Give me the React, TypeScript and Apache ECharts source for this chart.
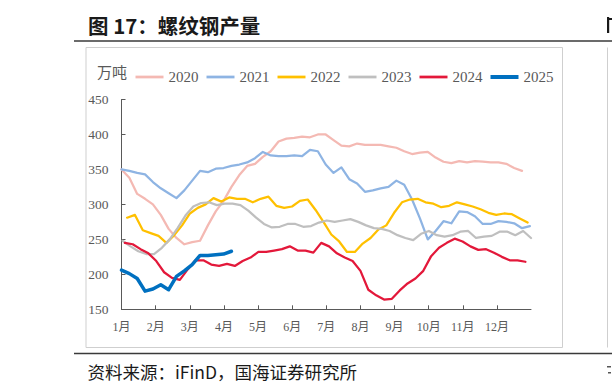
import React, { useEffect, useRef } from "react";
import * as echarts from "echarts";

const years = ["2020", "2021", "2022", "2023", "2024", "2025"];
const colors = ["#F4B9B3", "#8EB4E3", "#FFC000", "#BFBFBF", "#E3183A", "#0070C0"];
const lineWidths = [2.25, 2.25, 2.25, 2.25, 2.25, 3.5];
// day of year of each series' first weekly observation
const firstDay = [0, 0, 5, 1, 3, 0];
const monthLabels = ["1月", "2月", "3月", "4月", "5月", "6月", "7月", "8月", "9月", "10月", "11月", "12月"];
const yMin = 150;
const yMax = 450;
const yStep = 50;

const s2020 = [350, 338, 315, 308, 300, 285, 265, 252, 243, 246, 248, 270, 290, 305, 325, 342, 355, 358, 368, 376, 390, 394, 395, 397, 396, 400, 400, 392, 384, 383, 387, 385, 385, 385, 383, 381, 376, 372, 374, 375, 367, 361, 359, 362, 360, 362, 361, 360, 360, 358, 352, 348];
const s2021 = [350, 348, 345, 343, 332, 323, 316, 309, 320, 334, 348, 346, 351, 352, 355, 357, 360, 366, 375, 370, 369, 369, 370, 369, 378, 376, 357, 345, 353, 336, 330, 318, 320, 323, 325, 334, 328, 307, 280, 250, 262, 276, 273, 290, 289, 283, 272, 272, 276, 275, 273, 266, 269];
const s2022 = [281, 285, 263, 259, 255, 245, 256, 270, 287, 295, 300, 309, 304, 310, 308, 308, 303, 308, 311, 298, 295, 297, 305, 307, 292, 275, 257, 247, 232, 232, 244, 252, 264, 270, 288, 303, 307, 308, 303, 301, 296, 298, 303, 300, 297, 293, 288, 285, 287, 286, 280, 274];
const s2023 = [248, 240, 233, 229, 229, 238, 250, 266, 284, 297, 302, 303, 299, 301, 301, 299, 291, 281, 272, 267, 268, 272, 272, 268, 269, 274, 277, 275, 277, 279, 275, 270, 266, 265, 262, 256, 252, 249, 258, 262, 256, 254, 256, 261, 262, 252, 254, 255, 261, 261, 256, 262, 252];
const s2024 = [245, 243, 236, 230, 219, 203, 195, 192, 207, 220, 220, 214, 212, 215, 212, 219, 224, 232, 232, 234, 236, 240, 234, 234, 231, 245, 240, 230, 224, 219, 205, 178, 170, 164, 165, 177, 187, 194, 205, 226, 238, 245, 251, 247, 240, 235, 236, 231, 225, 220, 220, 218];
const s2025 = [206, 201, 194, 176, 179, 185, 178, 197, 205, 214, 227, 227, 228, 229, 233];

const seriesValues = [s2020, s2021, s2022, s2023, s2024, s2025];

const DAYS_PER_MONTH = 365 / 12;
const serif = "'Liberation Serif', 'Times New Roman', serif";
const axisFont = "'Liberation Serif', 'Noto Sans CJK SC', serif";
const cjk = "'Noto Sans CJK SC', sans-serif";

export default function App() {
  const ref = useRef<HTMLDivElement>(null);

  useEffect(() => {
    if (!ref.current) return;
    const chart = echarts.init(ref.current, undefined, { renderer: "svg" });

    const series = years.map((y, k) => ({
      name: y,
      type: "line",
      symbol: "none",
      smooth: false,
      z: 2 + k,
      lineStyle: { color: colors[k], width: lineWidths[k], cap: "round", join: "round" },
      itemStyle: { color: colors[k] },
      data: seriesValues[k].map((v, i) => [(firstDay[k] + 7 * i) / DAYS_PER_MONTH, v]),
    }));

    const legendData = years.map((y, k) => ({
      name: y,
      icon: `path://M0 0H28V${lineWidths[k] + 0.5}H0Z`,
      itemStyle: { color: colors[k], borderWidth: 0 },
    }));

    const option: any = {
      animation: false,
      backgroundColor: "#ffffff",
      grid: { left: 121.5, right: 81, top: 99.5, bottom: 82.7, containLabel: false },
      legend: {
        data: legendData,
        left: 135.5,
        top: 69.5,
        padding: 0,
        itemWidth: 28,
        itemHeight: 14,
        itemGap: 8,
        symbolKeepAspect: true,
        textStyle: { color: "#595959", fontSize: 15, fontFamily: serif },
      },
      xAxis: {
        type: "value",
        min: 0,
        max: 12,
        interval: 1,
        splitLine: { show: false },
        axisLine: { show: true, lineStyle: { color: "#595959", width: 1 } },
        axisTick: { show: true, inside: true, length: 4, lineStyle: { color: "#595959" } },
        axisLabel: {
          show: true,
          margin: 12,
          color: "#595959",
          fontSize: 12,
          fontFamily: axisFont,
          showMinLabel: true,
          showMaxLabel: false,
          formatter: (v: number) => monthLabels[Math.round(v)] ?? "",
        },
      },
      yAxis: {
        type: "value",
        min: yMin,
        max: yMax,
        interval: yStep,
        splitLine: { show: false },
        axisLine: { show: true, lineStyle: { color: "#595959", width: 1 } },
        axisTick: { show: true, inside: true, length: 4, lineStyle: { color: "#595959" } },
        axisLabel: { margin: 13, color: "#595959", fontSize: 13.5, fontFamily: serif },
      },
      graphic: [
        {
          type: "text",
          x: 88,
          y: 25,
          silent: true,
          style: { text: "图 17：螺纹钢产量", fill: "#1a1a1a", font: `bold 20.5px ${cjk}`, verticalAlign: "middle" },
        },
        // edge of the neighbouring panel's title and source (cut by the page edge)
        { type: "rect", silent: true, shape: { x: 607, y: 17, width: 2.2, height: 16 }, style: { fill: "#1a1a1a" } },
        { type: "rect", silent: true, shape: { x: 607, y: 18, width: 5, height: 2 }, style: { fill: "#1a1a1a" } },
        { type: "rect", silent: true, shape: { x: 607, y: 366, width: 4, height: 1.5 }, style: { fill: "#555555" } },
        { type: "rect", silent: true, shape: { x: 608, y: 372, width: 3, height: 1.5 }, style: { fill: "#555555" } },
        { type: "line", silent: true, shape: { x1: 74, y1: 41, x2: 612, y2: 41 }, style: { stroke: "#3a3a3a", lineWidth: 1.5 } },
        { type: "line", silent: true, shape: { x1: 74, y1: 353.5, x2: 612, y2: 353.5 }, style: { stroke: "#3a3a3a", lineWidth: 1.5 } },
        { type: "rect", silent: true, shape: { x: 86, y: 47.5, width: 476.5, height: 300 }, style: { fill: "none", stroke: "#CFCFCF", lineWidth: 1 } },
        { type: "line", silent: true, shape: { x1: 607.5, y1: 47.5, x2: 607.5, y2: 347.5 }, style: { stroke: "#CFCFCF", lineWidth: 1 } },
        {
          type: "text",
          x: 97,
          y: 71,
          silent: true,
          style: { text: "万吨", fill: "#595959", font: `15px ${cjk}`, verticalAlign: "middle" },
        },
        {
          type: "text",
          x: 87.5,
          y: 371,
          silent: true,
          style: { text: "资料来源：iFinD，国海证券研究所", fill: "#1a1a1a", font: `17.5px ${cjk}`, verticalAlign: "middle" },
        },
      ],
      series,
    };

    chart.setOption(option);
    return () => chart.dispose();
  }, []);

  return (
    <div
      ref={ref}
      style={{ position: "fixed", left: 0, top: 0, width: 612, height: 392, background: "#ffffff" }}
    />
  );
}
